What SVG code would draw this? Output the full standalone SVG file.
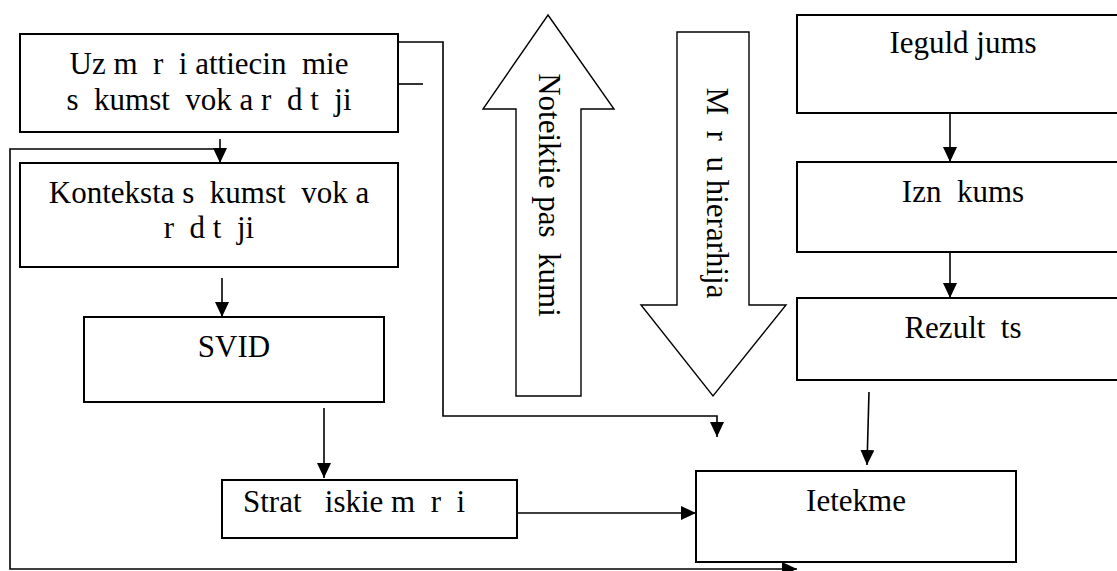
<svg xmlns="http://www.w3.org/2000/svg" width="1117" height="571" viewBox="0 0 1117 571">
<style>
.box{fill:#fff;stroke:#000;stroke-width:2}
.blk{fill:#fff;stroke:#000;stroke-width:1.4}
.ln{fill:none;stroke:#000;stroke-width:1.6}
text{font-family:"Liberation Serif","Times New Roman",serif;font-size:31px;fill:#000;white-space:pre}
.c{text-anchor:middle}
</style>
<defs>
<marker id="ah" markerUnits="userSpaceOnUse" markerWidth="15" markerHeight="14" refX="15" refY="7" orient="auto">
<path d="M0,0 L15,7 L0,14 z" fill="#000"/>
</marker>
</defs>
<rect width="1117" height="571" fill="#fff"/>
<g id="connectors">
<line class="ln" x1="220" y1="139" x2="220" y2="163" marker-end="url(#ah)"/>
<polyline class="ln" points="220,149 10,149 10,569 797,569" marker-end="url(#ah)"/>
<line class="ln" x1="222" y1="278" x2="222" y2="317" marker-end="url(#ah)"/>
<line class="ln" x1="324" y1="408" x2="324" y2="478" marker-end="url(#ah)"/>
<line class="ln" x1="517" y1="513" x2="696" y2="513" marker-end="url(#ah)"/>
<polyline class="ln" points="398,42 443,42 443,416 717,416 717,437" marker-end="url(#ah)"/>
<line class="ln" x1="398" y1="84" x2="423" y2="84"/>
<line class="ln" x1="950" y1="113" x2="950" y2="162" marker-end="url(#ah)"/>
<line class="ln" x1="950" y1="252" x2="950" y2="298" marker-end="url(#ah)"/>
<line class="ln" x1="869" y1="392" x2="867" y2="465" marker-end="url(#ah)"/>
</g>
<g id="n-uzmeri">
<rect class="box" x="20" y="34" width="378" height="98"/>
<text class="c" x="209" y="74" xml:space="preserve">Uz m  r  i attiecin  mie</text>
<text class="c" x="209" y="110" xml:space="preserve">s  kumst  vok a r  d t  ji</text>
</g>
<g id="n-konteksta">
<rect class="box" x="20" y="163" width="378" height="104"/>
<text class="c" x="209" y="203" xml:space="preserve">Konteksta s  kumst  vok a</text>
<text class="c" x="209" y="238" xml:space="preserve">r  d t  ji</text>
</g>
<g id="n-svid">
<rect class="box" x="84" y="317" width="300" height="85"/>
<text class="c" x="234" y="357">SVID</text>
</g>
<g id="n-strat">
<rect class="box" x="222" y="480" width="295" height="58"/>
<text x="243" y="512" xml:space="preserve">Strat   iskie m  r  i</text>
</g>
<g id="n-ietekme">
<rect class="box" x="696" y="471" width="320" height="91"/>
<text class="c" x="856" y="511">Ietekme</text>
</g>
<g id="n-ieguldijums">
<rect class="box" x="797" y="15" width="332" height="98"/>
<text class="c" x="963" y="53" xml:space="preserve">Ieguld jums</text>
</g>
<g id="n-iznakums">
<rect class="box" x="797" y="162" width="332" height="90"/>
<text class="c" x="963" y="202" xml:space="preserve">Izn  kums</text>
</g>
<g id="n-rezultats">
<rect class="box" x="797" y="298" width="332" height="82"/>
<text class="c" x="963" y="338" xml:space="preserve">Rezult  ts</text>
</g>
<g id="n-noteiktie">
<polygon class="blk" points="548,15 614,109 581,109 581,396 516,396 516,109 483,109"/>
<text class="c" transform="translate(549,195) rotate(90)" x="0" y="0" dominant-baseline="central" xml:space="preserve">Noteiktie pas  kumi</text>
</g>
<g id="n-hierarhija">
<polygon class="blk" points="677,32 749,32 749,305 786,305 713,396 641,305 677,305"/>
<text class="c" transform="translate(717,193) rotate(90)" x="0" y="0" dominant-baseline="central" xml:space="preserve">M  r  u hierarhija</text>
</g>
</svg>
